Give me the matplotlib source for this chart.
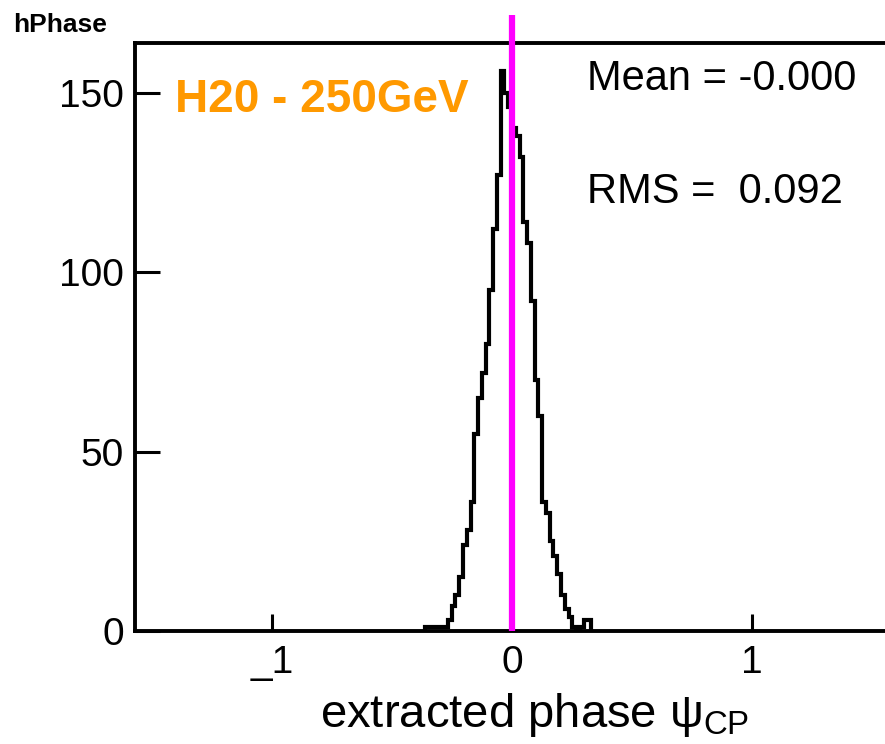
import numpy as np
import matplotlib
matplotlib.use("Agg")
import matplotlib.pyplot as plt

# ---------------- DATA ----------------
# histogram hPhase: 200 bins over [-pi/2, pi/2]; only the filled bins are listed
BIN_WIDTH = np.pi / 200
FIRST_BIN = -23          # index of the first listed bin, counted from 0
counts = [1, 1, 1, 1, 1, 1,
          3, 7, 10, 15, 24, 28, 36, 55, 65, 72, 80, 95, 112, 127,
          156, 150, 146, 140, 138, 132, 114, 108, 92, 70, 60,
          36, 33, 25, 21, 16, 10, 6, 4, 1, 0, 1, 3, 3]

x_ticks = [-1, 0, 1]
x_ticklabels = ["_1", "0", "1"]
y_ticks = [0, 50, 100, 150]

hist_name = "hPhase"
sample_label = "H20 - 250GeV"
stats = ["Mean = -0.000", "RMS =  0.092"]
marker_x = 0.0
# --------------------------------------

plt.rcParams["font.family"] = ["Liberation Sans", "DejaVu Sans"]
plt.rcParams["mathtext.fontset"] = "custom"
plt.rcParams["mathtext.rm"] = "Liberation Sans"
plt.rcParams["mathtext.it"] = "Liberation Sans"

W, H = 885, 744
fig = plt.figure(figsize=(W / 100, H / 100), dpi=100)

# axes frame in pixels: left 135, right ~889 (off canvas), bottom 631, top 43
ax = fig.add_axes([135 / W, (H - 631) / H, (889 - 135) / W, (631 - 43) / H])

edges = (FIRST_BIN + np.arange(len(counts) + 1)) * BIN_WIDTH
ax.stairs(counts, edges, color="black", lw=3.0, baseline=0)

ax.plot([marker_x, marker_x], [0, 171.5], color="#ff00ff", lw=4.5,
        clip_on=False, zorder=5, solid_capstyle="butt")

ax.set_xlim(-np.pi / 2, np.pi / 2)
ax.set_ylim(0, 163.8)

ax.set_xticks(x_ticks)
ax.set_xticklabels(x_ticklabels)
ax.set_yticks(y_ticks)
ax.tick_params(axis="x", direction="in", length=12, width=2.2,
               labelsize=28, pad=10, top=False)
ax.tick_params(axis="y", direction="in", length=18, width=2.2,
               labelsize=28, pad=8, right=False)
ax.minorticks_off()

for side in ["left", "bottom", "top"]:
    ax.spines[side].set_linewidth(2.8)
ax.spines["right"].set_visible(False)

fig.text(13 / W, 1 - 32 / H, hist_name, fontsize=19, fontweight="bold",
         va="baseline", ha="left")
fig.text(175 / W, 1 - 112 / H, sample_label, fontsize=33, fontweight="bold",
         color="#ff9900", va="baseline", ha="left")
fig.text(587 / W, 1 - 90 / H, stats[0], fontsize=30, va="baseline", ha="left")
fig.text(587 / W, 1 - 203 / H, stats[1], fontsize=30, va="baseline", ha="left")

fig.text(320 / W, 1 - 727 / H, r"extracted phase $\psi_{\mathrm{CP}}$",
         fontsize=34, va="baseline", ha="left")

fig.savefig("out.png", dpi=100, facecolor="white")
